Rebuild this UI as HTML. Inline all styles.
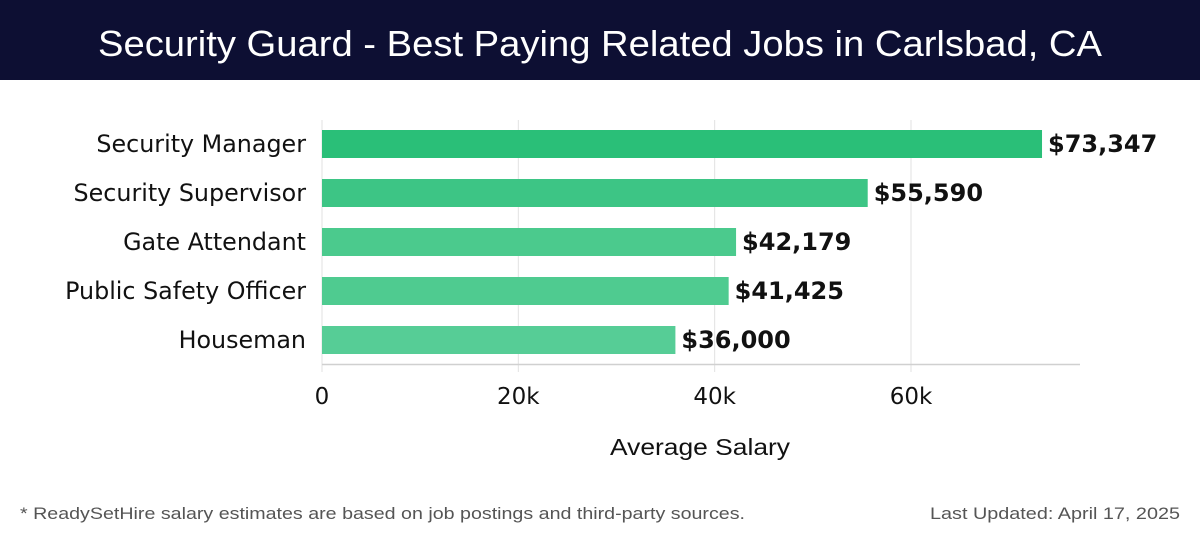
<!DOCTYPE html>
<html><head><meta charset="utf-8"><style>
body{margin:0;width:1200px;height:540px;background:#fff;overflow:hidden;font-family:"DejaVu Sans","Liberation Sans",sans-serif}
</style></head><body>
<svg width="1200" height="540" viewBox="0 0 1200 540" font-family="DejaVu Sans, Liberation Sans, sans-serif">
<rect x="0" y="0" width="1200" height="80" fill="#0d0f33"/>
<text x="98" y="56" textLength="1004" lengthAdjust="spacingAndGlyphs" fill="#fff" font-size="36" font-family="Liberation Sans, sans-serif">Security Guard - Best Paying Related Jobs in Carlsbad, CA</text>
<g id="grid"></g>
<g id="bars"></g>
<g id="labels"></g>
<text x="610" y="455" textLength="180" lengthAdjust="spacingAndGlyphs" font-size="23" fill="#111" font-family="Liberation Sans, sans-serif">Average Salary</text>
<text x="20" y="519" textLength="725" lengthAdjust="spacingAndGlyphs" font-size="17" fill="#555" font-family="Liberation Sans, sans-serif">* ReadySetHire salary estimates are based on job postings and third-party sources.</text>
<text x="930" y="519" textLength="250" lengthAdjust="spacingAndGlyphs" font-size="17" fill="#555" font-family="Liberation Sans, sans-serif">Last Updated: April 17, 2025</text>
</svg>
<script>
const categories=["Security Manager","Security Supervisor","Gate Attendant","Public Safety Officer","Houseman"];
const values=[73347,55590,42179,41425,36000];
const valueLabels=["$73,347","$55,590","$42,179","$41,425","$36,000"];
const ticks=[0,20000,40000,60000];
const tickLabels=["0","20k","40k","60k"];
const colors=["#2abf78","#3dc585","#4bca8d","#4fcb90","#56cd96"];
const NS="http://www.w3.org/2000/svg";
const x=v=>322+v*(589/60000);
const yc=i=>144+i*49;
function mk(t,a,p){const e=document.createElementNS(NS,t);for(const k in a)e.setAttribute(k,a[k]);p.appendChild(e);return e;}
const g=document.getElementById('grid'),b=document.getElementById('bars'),l=document.getElementById('labels');
ticks.forEach((t,i)=>{
 const ln=mk('line',{x1:x(t),x2:x(t),y1:120,y2:372,stroke:'#e2e2e2','stroke-width':1},g);
 
 
 const tx=mk('text',{x:x(t),y:404,'text-anchor':'middle','font-size':23,fill:'#111'},l);
 tx.textContent=tickLabels[i];
 
 
});
const ax=mk('line',{x1:322,x2:1080,y1:364.5,y2:364.5,stroke:'#d0d0d0','stroke-width':1.5},g);


categories.forEach((c,i)=>{
 const r=mk('rect',{x:x(0),y:yc(i)-14,width:x(values[i])-x(0),height:28,fill:colors[i]},b);
 
 
 const cl=mk('text',{x:306,y:yc(i)+8,'text-anchor':'end','font-size':23.8,fill:'#111'},l);
 cl.textContent=c;
 
 
 const vl=mk('text',{x:x(values[i])+6,y:yc(i)+8,'font-size':24,'font-weight':'bold',fill:'#111'},l);
 vl.textContent=valueLabels[i];
 
 
});
</script>
</body></html>
